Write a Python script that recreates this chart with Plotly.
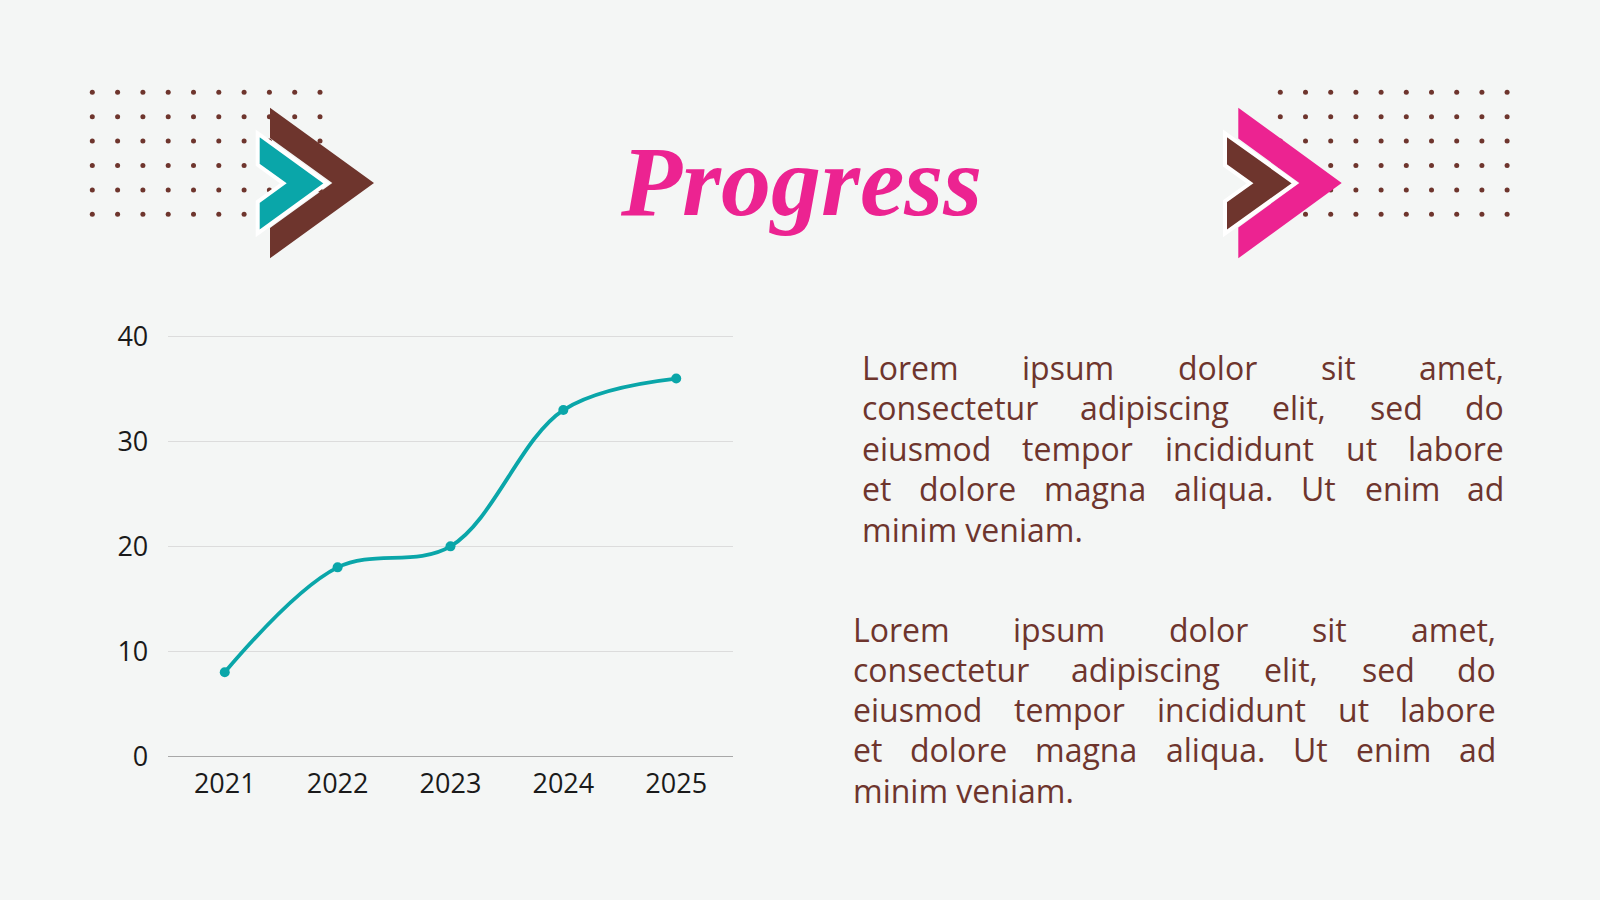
import numpy as np
import plotly.graph_objects as go

# chart data
years = ["2021", "2022", "2023", "2024", "2025"]
progress = [8, 18, 20, 33, 36]
y_ticks = [0, 10, 20, 30, 40]

title_text = "Progress"
body_lines = [
    "Lorem ipsum dolor sit amet,",
    "consectetur adipiscing elit, sed do",
    "eiusmod tempor incididunt ut labore",
    "et dolore magna aliqua. Ut enim ad",
    "minim veniam.",
]

BG = "#F4F6F5"
TEAL = "#0AA6A9"
BROWN = "#6E352D"
PINK = "#EC2391"
FONT = "Open Sans"
BODY_SIZE = 32

W, H = 1600, 900

# rough glyph widths (em) used to spread words on justified lines
CHAR_W = {"i": .258, "l": .258, "j": .258, "t": .357, "r": .408, "f": .336,
          " ": .26, ",": .258, ".": .266, "m": .932, "w": .8, "c": .48,
          "s": .479, "e": .561, "a": .556, "g": .546, "v": .5, "L": .519,
          "U": .729}


def word_width(word, size):
    return sum(CHAR_W.get(ch, .6) for ch in word) * size


def paragraph(lines, x0, x1, y0, step, size):
    anns = []
    for i, line in enumerate(lines):
        words = line.split()
        y = y0 + i * step - 0.388 * size
        last = i == len(lines) - 1
        widths = [word_width(w, size) for w in words]
        if last or len(words) == 1:
            anns.append(dict(x=x0, y=y, text=line, xanchor="left"))
            continue
        gap = (x1 - x0 - sum(widths)) / (len(words) - 1)
        x = x0
        for j, (w, ww) in enumerate(zip(words, widths)):
            if j == 0:
                anns.append(dict(x=x0, y=y, text=w, xanchor="left"))
            elif j == len(words) - 1:
                anns.append(dict(x=x1, y=y, text=w, xanchor="right"))
            else:
                anns.append(dict(x=x + ww / 2, y=y, text=w, xanchor="center"))
            x += ww + gap
    for a in anns:
        a.update(xref="x2", yref="y2", yanchor="middle", showarrow=False,
                 borderpad=0,
                 font=dict(family=FONT, size=size, color=BROWN))
    return anns


def chevron(x0, top, tip_x, bottom, inner_x):
    mid = (top + bottom) / 2
    slope = (mid - top) / (tip_x - x0)
    inner_top = mid - slope * (inner_x - x0)
    inner_bot = mid + slope * (inner_x - x0)
    return (f"M {x0},{top} L {tip_x},{mid} L {x0},{bottom} L {x0},{inner_bot} "
            f"L {inner_x},{mid} L {x0},{inner_top} Z")


fig = go.Figure()

fig.add_trace(go.Scatter(
    x=years, y=progress, mode="lines+markers",
    line=dict(color=TEAL, width=3.8, shape="spline"),
    marker=dict(color=TEAL, size=10),
    cliponaxis=False, hoverinfo="skip", showlegend=False,
))

# dotted decoration grids (pixel space)
lx, ly = np.meshgrid(92.3 + 25.3 * np.arange(10), 92.3 + 24.4 * np.arange(6))
rx, ry = np.meshgrid(1280.3 + 25.2 * np.arange(10), 92.3 + 24.4 * np.arange(6))
fig.add_trace(go.Scatter(
    x=np.concatenate([lx.ravel(), rx.ravel()]),
    y=np.concatenate([ly.ravel(), ry.ravel()]),
    mode="markers", marker=dict(color=BROWN, size=5),
    xaxis="x2", yaxis="y2", hoverinfo="skip", showlegend=False,
))

shapes = [
    dict(type="path", path=chevron(270, 107.7, 374, 258.3, 332.3),
         fillcolor=BROWN, line=dict(width=0)),
    dict(type="path", path=chevron(257.7, 133.3, 326.7, 233.3, 283.3),
         fillcolor=TEAL, line=dict(color="white", width=4)),
    dict(type="path", path=chevron(1238.3, 107.7, 1341.7, 258.3, 1299.3),
         fillcolor=PINK, line=dict(width=0)),
    dict(type="path", path=chevron(1225, 133.3, 1295, 233.3, 1250),
         fillcolor=BROWN, line=dict(color="white", width=4)),
]
for s in shapes:
    s.update(xref="x2", yref="y2", layer="above")

annotations = [dict(
    x=801, y=217 - 36, xref="x2", yref="y2", text=title_text,
    showarrow=False, xanchor="center", yanchor="middle",
    font=dict(family="Liberation Serif", size=100, color=PINK,
              style="italic", weight="bold"),
)]
annotations += paragraph(body_lines, 861, 1505, 380, 40.4, BODY_SIZE)
annotations += paragraph(body_lines, 852, 1497, 641.7, 40.2, BODY_SIZE)

fig.update_layout(
    width=W, height=H,
    margin=dict(l=0, r=0, t=0, b=0, pad=0, autoexpand=False),
    paper_bgcolor=BG, plot_bgcolor="rgba(0,0,0,0)",
    showlegend=False,
    shapes=shapes, annotations=annotations,
    xaxis=dict(
        domain=[0.1052, 0.4579], type="category", range=[-0.5, 4.5],
        showgrid=False, showline=True, linecolor="#A8A8A8", linewidth=1,
        ticks="", ticklabelstandoff=4,
        tickfont=dict(family=FONT, size=27, color="#1A1A1A"),
        fixedrange=True,
    ),
    yaxis=dict(
        domain=[0.1599, 0.6259 + 1.1 / H], range=[0, 40.1], tickvals=y_ticks,
        showgrid=True, gridcolor="#DCDCDC", gridwidth=1, zeroline=False,
        ticks="", ticklabelstandoff=19,
        tickfont=dict(family=FONT, size=27, color="#1A1A1A"),
        fixedrange=True,
    ),
    xaxis2=dict(domain=[0, 1], range=[0, W], visible=False, fixedrange=True,
                anchor="y2"),
    yaxis2=dict(domain=[0, 1], range=[H, 0], visible=False, fixedrange=True,
                anchor="x2"),
)
fig.data[1].update(xaxis="x2", yaxis="y2")

fig.write_html("out.html", config={"displayModeBar": False},
               post_script="document.body.style.margin = '0';")
